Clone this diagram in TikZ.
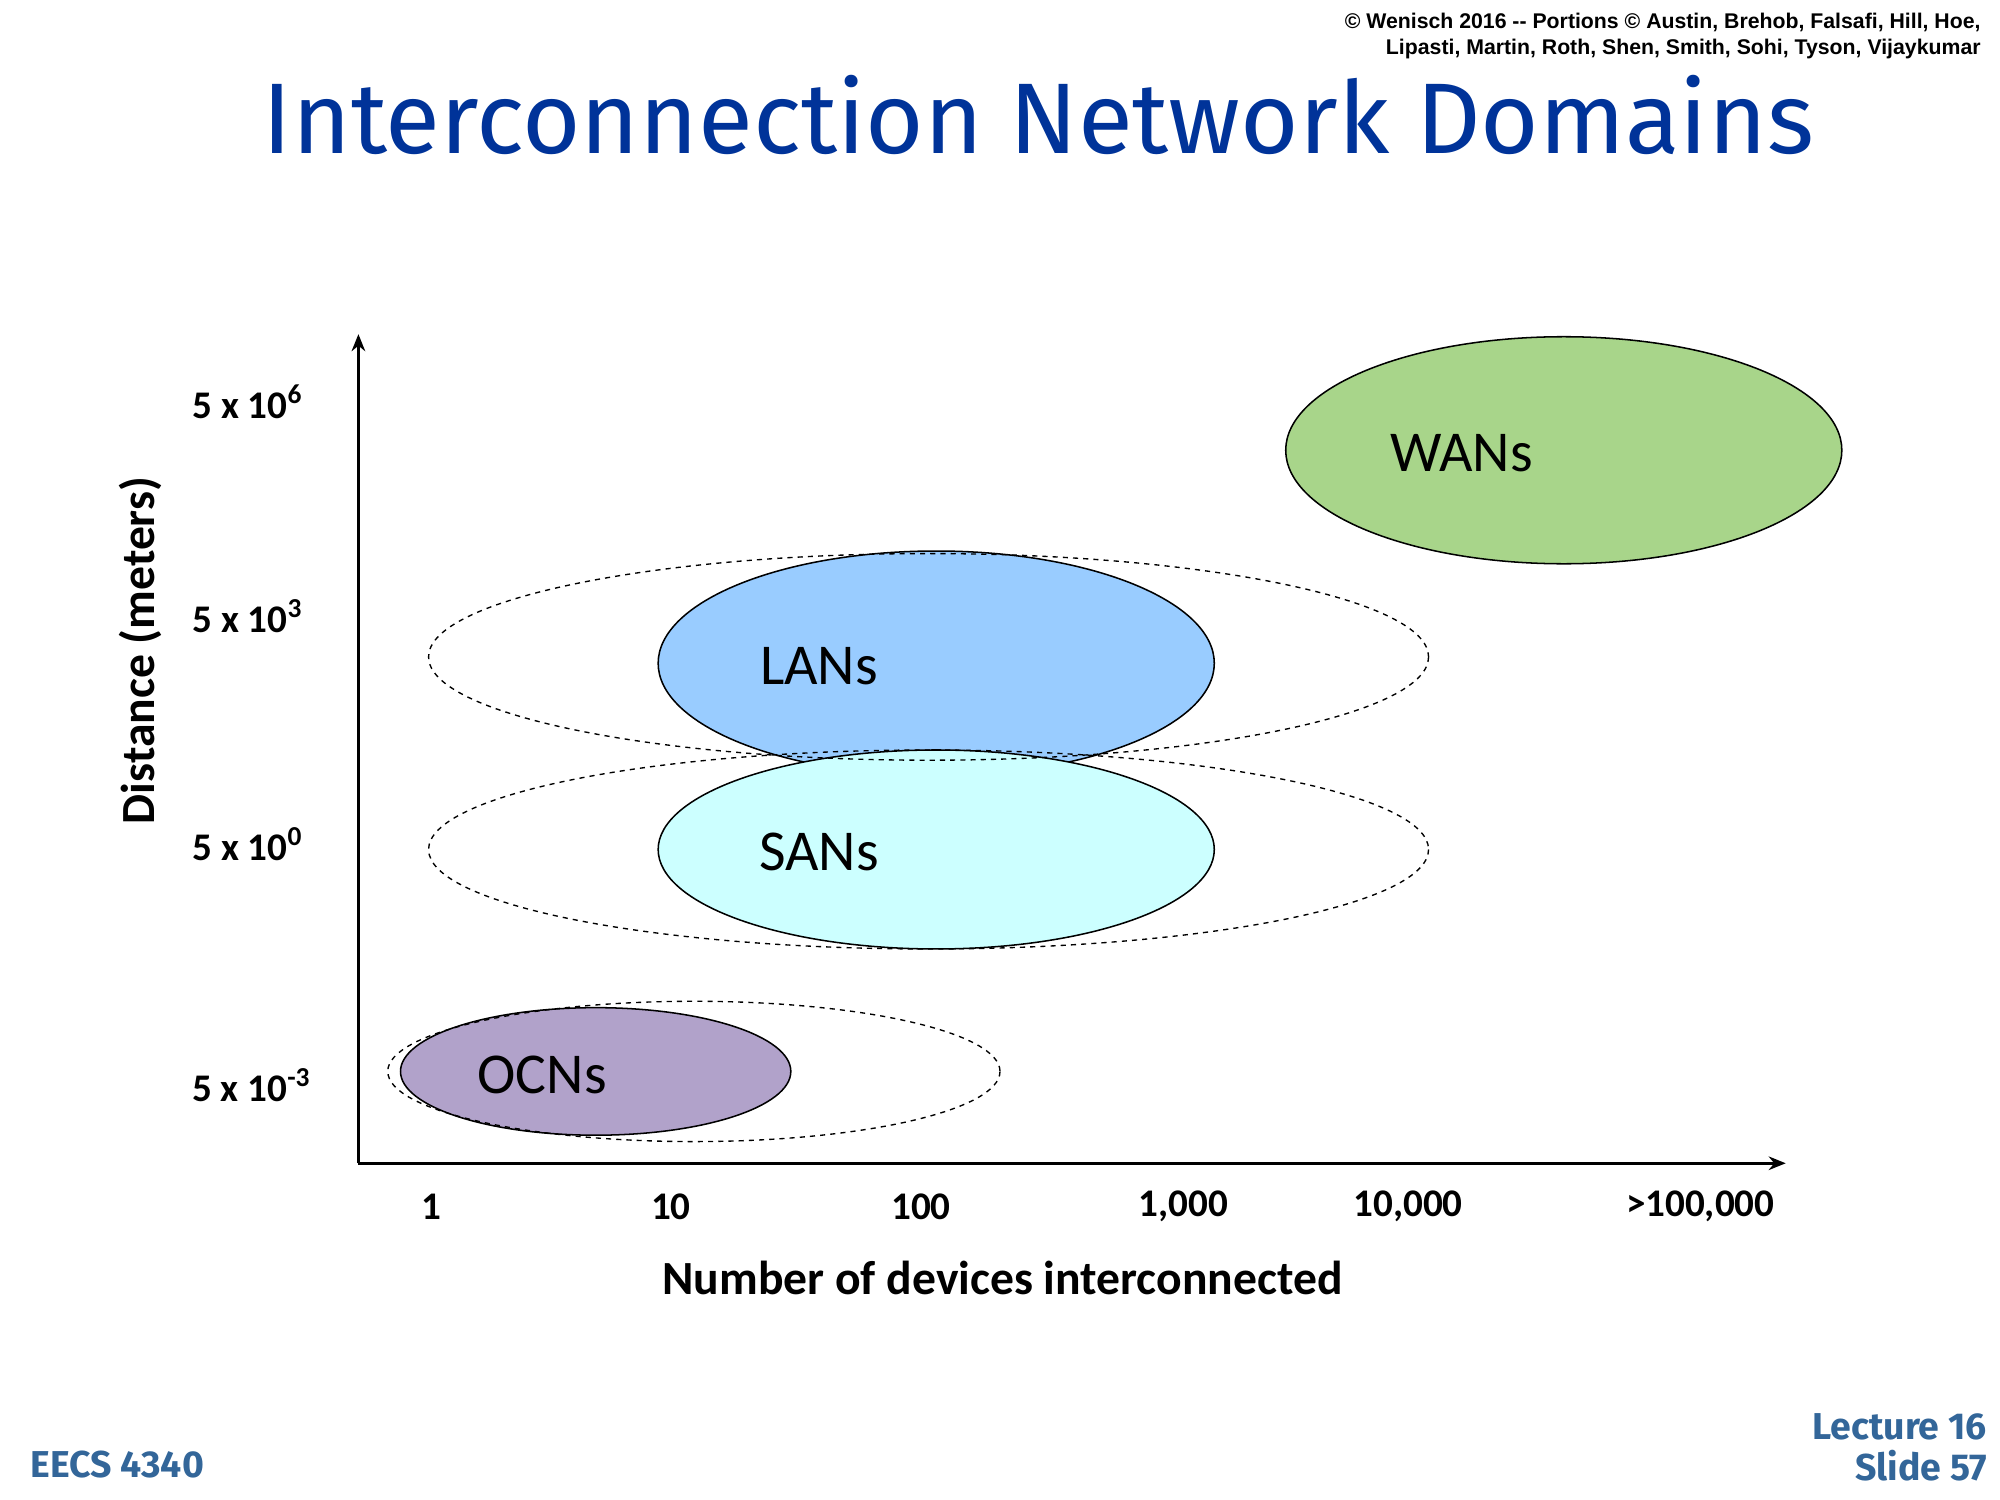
\documentclass[tikz,border=0pt]{standalone}
\usepackage{fontspec}
\setmainfont{Carlito}
\newfontfamily\arialfont{Liberation Sans}
\newfontfamily\comicfont{Fira Sans}
\usetikzlibrary{arrows.meta}
\definecolor{titleblue}{RGB}{0,51,153}
\definecolor{footblue}{RGB}{51,102,153}
\definecolor{wangreen}{RGB}{168,213,138}
\definecolor{lanblue}{RGB}{153,204,255}
\definecolor{sancyan}{RGB}{204,255,255}
\definecolor{ocnpurple}{RGB}{177,162,202}
\tikzset{
  area/.style={draw=black, line width=0.9pt},
  span/.style={draw=black, dashed, line width=0.8pt},
  dlabel/.style={inner sep=0pt, font=\fontsize{34}{36}\selectfont},
  tick/.style={inner sep=0pt, font=\bfseries\fontsize{23}{26}\selectfont},
  axis/.style={line width=1.6pt, -{Stealth[length=10pt,width=8pt]}},
}
\begin{document}
\begin{tikzpicture}[x=0.75pt,y=0.75pt,yscale=-1,xscale=1]
\useasboundingbox (0,0) rectangle (1568,1176);

% title and credits
\node (title) [inner sep=0pt, text=titleblue, font=\comicfont\fontsize{59}{64}\selectfont] at (814,90) {Interconnection Network Domains};
\node (credit) [anchor=north east, inner sep=0pt, align=right, font=\arialfont\bfseries\fontsize{12.5}{15.5}\selectfont] at (1553,10) {© Wenisch 2016 -- Portions © Austin, Brehob, Falsafi, Hill, Hoe,\\Lipasti, Martin, Roth, Shen, Smith, Sohi, Tyson, Vijaykumar};

% axes
\coordinate (origin) at (281,912);
\coordinate (ytop) at (281,262);
\coordinate (xend) at (1400,912);
\draw[axis] (origin) -- (ytop);
\draw[axis] (origin) -- (xend);

% domains
\fill[wangreen, area] (1226,353) ellipse [x radius=218, y radius=89];
\fill[lanblue, area] (734,520) ellipse [x radius=218, y radius=88];
\fill[sancyan, area] (734,666) ellipse [x radius=218, y radius=78];
\fill[ocnpurple, area] (467,840) ellipse [x radius=153, y radius=50];
\draw[span] (728,515) ellipse [x radius=392, y radius=81];
\draw[span] (728,666) ellipse [x radius=392, y radius=78];
\draw[span] (544,840) ellipse [x radius=240, y radius=55];

\node (wan) [dlabel] at (1146,355) {WANs};
\node (lan) [dlabel] at (642,522) {LANs};
\node (san) [dlabel] at (642,668) {SANs};
\node (ocn) [dlabel] at (425,843) {OCNs};

% tick labels
\node (y1) [tick] at (194,315) {5 x 10\textsuperscript{6}};
\node (y2) [tick] at (194,483) {5 x 10\textsuperscript{3}};
\node (y3) [tick] at (194,662) {5 x 10\textsuperscript{0}};
\node (y4) [tick] at (197,851) {5 x 10\textsuperscript{-3}};
\node (x1) [tick] at (338,946) {1};
\node (x2) [tick] at (526,946) {10};
\node (x3) [tick] at (722,946) {100};
\node (x4) [tick] at (928,946) {1,000};
\node (x5) [tick] at (1104,946) {10,000};
\node (x6) [tick] at (1333,946) {>100,000};

\node (xlabel) [inner sep=0pt, font=\bfseries\fontsize{28}{30}\selectfont] at (786,1002) {Number of devices interconnected};
\node (ylabel) [inner sep=0pt, rotate=90, font=\bfseries\fontsize{28}{30}\selectfont] at (110,510) {Distance (meters)};

% footer
\node (course) [inner sep=0pt, text=footblue, font=\comicfont\bfseries\fontsize{22}{24}\selectfont] at (92,1148) {EECS 4340};
\node (slide) [anchor=north east, inner sep=0pt, align=right, text=footblue, font=\comicfont\bfseries\fontsize{22}{24}\selectfont] at (1558,1108) {Lecture 16\\Slide 57};
\end{tikzpicture}
\end{document}
